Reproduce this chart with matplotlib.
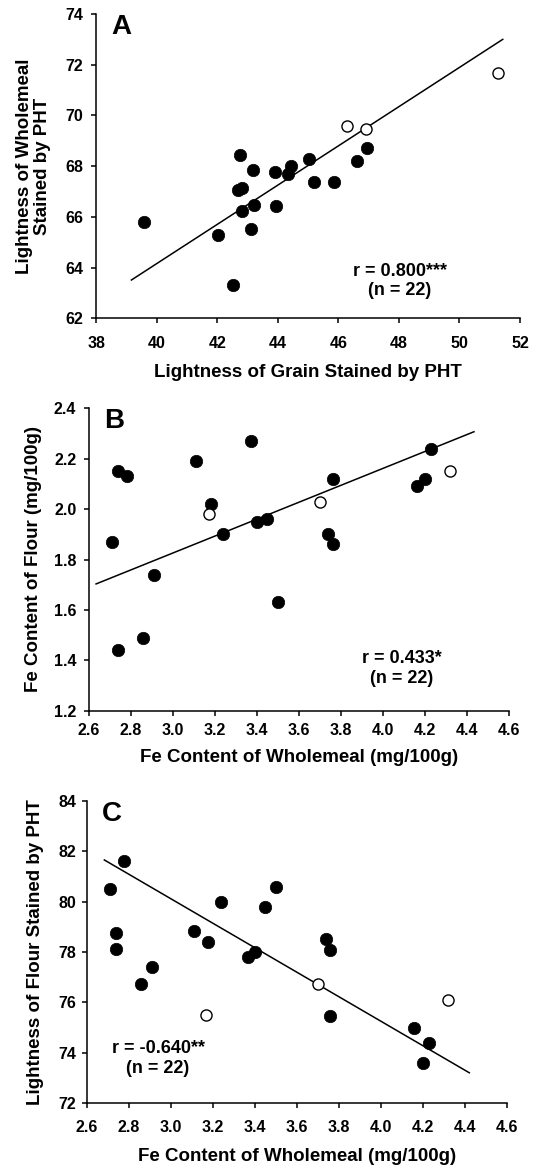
import numpy as np
import matplotlib
matplotlib.use("Agg")
import matplotlib.pyplot as plt

plt.rcParams['font.family'] = ['Liberation Sans', 'DejaVu Sans']
plt.rcParams['font.weight'] = 'bold'

# ---------------- data ----------------
# Panel A: lightness of grain (x) vs lightness of wholemeal (y), stained by PHT
a_x_filled = [39.56, 42.02, 42.51, 42.74, 42.68, 42.83, 42.82, 43.10, 43.18, 43.22,
              43.89, 43.95, 44.33, 44.43, 45.02, 45.20, 45.86, 46.61, 46.93]
a_y_filled = [65.79, 65.29, 63.30, 68.43, 67.06, 67.13, 66.25, 65.51, 67.85, 66.46,
              67.75, 66.44, 67.71, 68.02, 68.27, 67.39, 67.39, 68.20, 68.73]
a_x_open = [46.27, 46.91, 51.27]
a_y_open = [69.60, 69.47, 71.67]
a_fit_x = [39.16, 51.43]
a_fit_y = [63.51, 73.00]

# Fe content of wholemeal (shared x for B and C)
fe_whole_filled = [2.71, 2.74, 2.78, 2.74, 2.86, 2.91, 3.11, 3.18, 3.24, 3.37,
                   3.40, 3.45, 3.50, 3.74, 3.76, 3.76, 4.16, 4.20, 4.23]
fe_whole_open = [3.17, 3.70, 4.32]

# Panel B: Fe content of flour
b_y_filled = [1.87, 2.15, 2.13, 1.44, 1.49, 1.74, 2.19, 2.02, 1.90, 2.27,
              1.95, 1.96, 1.63, 1.90, 2.12, 1.86, 2.09, 2.12, 2.24]
b_y_open = [1.98, 2.03, 2.15]
b_fit_x = [2.635, 4.432]
b_fit_y = [1.703, 2.307]

# Panel C: lightness of flour stained by PHT
c_x_filled = [2.71, 2.74, 2.78, 2.74, 2.86, 2.91, 3.11, 3.18, 3.24, 3.37,
              3.40, 3.45, 3.50, 3.74, 3.76, 3.76, 4.16, 4.20, 4.23]
c_y_filled = [80.51, 78.13, 81.61, 78.75, 76.74, 77.39, 78.82, 78.40, 79.97, 77.79,
              78.00, 79.78, 80.58, 78.51, 78.08, 75.47, 74.98, 73.58, 74.38]
c_y_open = [75.49, 76.72, 76.10]
c_fit_x = [2.684, 4.422]
c_fit_y = [81.65, 73.21]

panel_letters = ['A', 'B', 'C']
annotations = ['r = 0.800***\n(n = 22)', 'r = 0.433*\n(n = 22)', 'r = -0.640**\n(n = 22)']
xlabels = ['Lightness of Grain Stained by PHT',
           'Fe Content of Wholemeal (mg/100g)',
           'Fe Content of Wholemeal (mg/100g)']
ylabels = ['Lightness of Wholemeal\nStained by PHT',
           'Fe Content of Flour (mg/100g)',
           'Lightness of Flour Stained by PHT']

W, H = 536, 1170
fig = plt.figure(figsize=(W / 100, H / 100), dpi=100)


def add_ax(left, top, right, bottom):
    return fig.add_axes([left / W, 1 - bottom / H, (right - left) / W, (bottom - top) / H])


axA = add_ax(96.3, 14, 520, 318.3)
axB = add_ax(88.7, 408.3, 509.3, 710.7)
axC = add_ax(86.7, 800.7, 506.7, 1103.3)

panels = [
    (axA, a_x_filled, a_y_filled, a_x_open, a_y_open, a_fit_x, a_fit_y,
     (38, 52), np.arange(38, 53, 2), (62, 74), np.arange(62, 75, 2), '{:.0f}', '{:.0f}',
     (0.717, 0.122), 8.8, 6.0, 10.0, -0.148),
    (axB, fe_whole_filled, b_y_filled, fe_whole_open, b_y_open, b_fit_x, b_fit_y,
     (2.6, 4.6), np.arange(2.6, 4.61, 0.2), (1.2, 2.4), np.arange(1.2, 2.41, 0.2), '{:.1f}', '{:.1f}',
     (0.745, 0.139), 5.3, 5.3, 7.8, -0.132),
    (axC, c_x_filled, c_y_filled, fe_whole_open, c_y_open, c_fit_x, c_fit_y,
     (2.6, 4.6), np.arange(2.6, 4.61, 0.2), (72, 84), np.arange(72, 85, 2), '{:.1f}', '{:.0f}',
     (0.170, 0.149), 8.1, 4.0, 9.5, -0.121),
]

for i, (ax, xf, yf, xo, yo, fitx, fity, xlim, xt, ylim, yt, xfmt, yfmt,
        ann_pos, xpad, ypad, xlabpad, ylab_x) in enumerate(panels):
    ax.plot(fitx, fity, color='black', lw=1.1, zorder=2)

    ax.scatter(xf, yf, s=80, c='black', edgecolors='black', linewidths=0.5, zorder=3)
    ax.scatter(xo, yo, s=64, facecolors='white', edgecolors='black', linewidths=1.0, zorder=3)

    ax.set_xlim(*xlim)
    ax.set_ylim(*ylim)
    ax.set_xticks(xt)
    ax.set_yticks(yt)
    ax.set_xticklabels([xfmt.format(v) for v in xt])
    ax.set_yticklabels([yfmt.format(v) for v in yt])

    for s in ['top', 'right']:
        ax.spines[s].set_visible(False)
    for s in ['left', 'bottom']:
        ax.spines[s].set_linewidth(1.1)
    ax.tick_params(axis='both', direction='out', length=3.6, width=1.1,
                   labelsize=11.5, colors='black')
    ax.tick_params(axis='x', pad=xpad)
    ax.tick_params(axis='y', pad=ypad)
    for lab in ax.get_xticklabels() + ax.get_yticklabels():
        lab.set_fontweight('bold')

    ax.set_xlabel(xlabels[i], fontsize=13.5, fontweight='bold', labelpad=xlabpad)
    ax.set_ylabel(ylabels[i], fontsize=13.5, fontweight='bold', va='center',
                  linespacing=1.05)
    ax.yaxis.set_label_coords(ylab_x, 0.5)

    ax.text(0.036, 1.0, panel_letters[i], transform=ax.transAxes, fontsize=20,
            fontweight='bold', ha='left', va='top')
    ax.text(ann_pos[0], ann_pos[1], annotations[i], transform=ax.transAxes,
            fontsize=13, fontweight='bold', ha='center', va='center', linespacing=1.2)

fig.savefig('out.png', dpi=100)
